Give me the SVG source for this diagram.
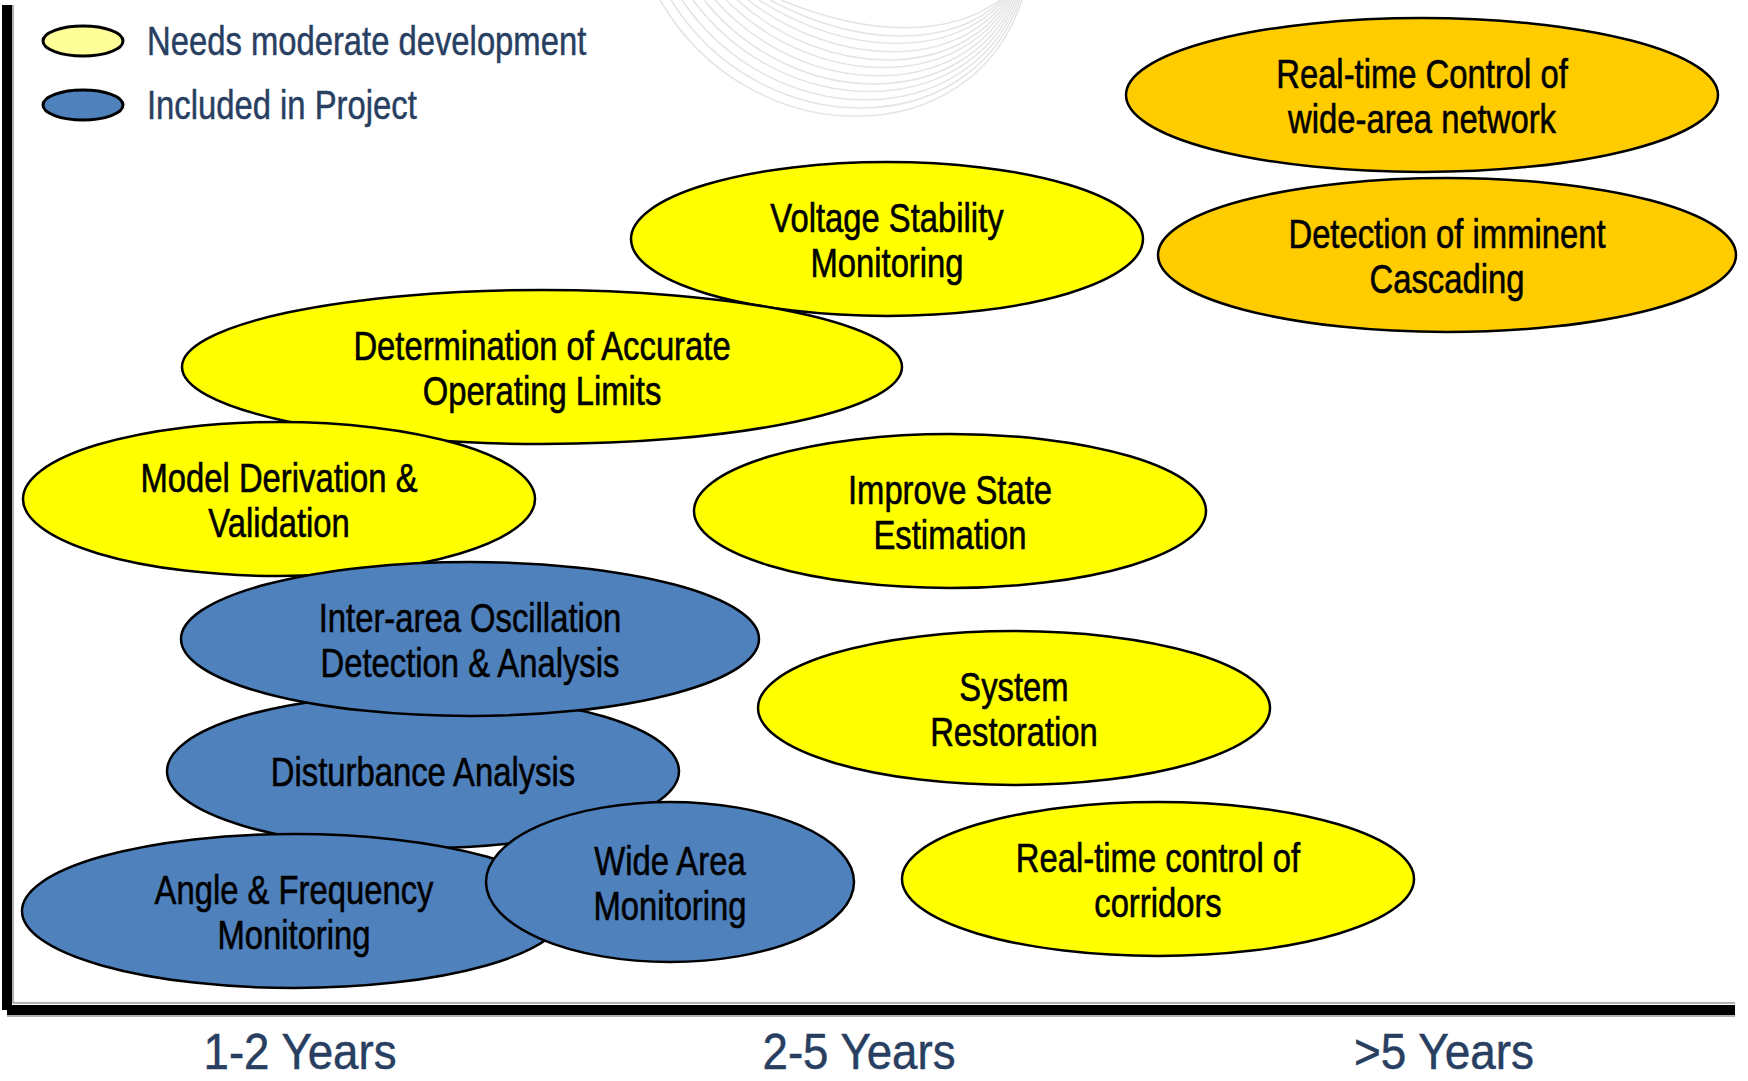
<svg xmlns="http://www.w3.org/2000/svg" width="1748" height="1081" viewBox="0 0 1748 1081">
<style>
.node ellipse{stroke:#000;stroke-width:2.5}
.y{fill:#ffff00}
.o{fill:#ffcc00}
.b{fill:#4f81bd}
.t{font-family:"Liberation Sans",Arial,sans-serif;font-size:40px;fill:#000;stroke:#000;stroke-width:0.6;text-anchor:middle}
.lg{font-family:"Liberation Sans",Arial,sans-serif;font-size:40px;fill:#283f62;stroke:#283f62;stroke-width:0.5}
.ax{font-family:"Liberation Sans",Arial,sans-serif;font-size:50px;fill:#283f62;stroke:#283f62;stroke-width:0.5;text-anchor:middle}
.deco path{fill:none;stroke:#e4e4e4;stroke-width:1.5}
</style>
<rect width="1748" height="1081" fill="#fff"/>
<g class="deco">
<path d="M660,0 C750,155 972,155 1022,0"/>
<path d="M671,0 C761,144 970,144 1020,0"/>
<path d="M682,0 C772,133 968,133 1018,0"/>
<path d="M693,0 C783,122 966,122 1016,0"/>
<path d="M704,0 C794,112 964,112 1014,0"/>
<path d="M715,0 C805,101 962,101 1012,0"/>
<path d="M726,0 C816,90 960,90 1010,0"/>
<path d="M737,0 C827,80 958,80 1008,0"/>
<path d="M748,0 C838,69 956,69 1006,0"/>
<path d="M759,0 C849,58 954,58 1004,0"/>
<path d="M770,0 C860,48 952,48 1002,0"/>
<path d="M781,0 C871,37 950,37 1000,0"/>
</g>
<g id="axes">
<line x1="13" y1="5" x2="13" y2="1003" stroke="#999" stroke-width="1.5"/>
<line x1="13" y1="1003" x2="1735" y2="1003" stroke="#999" stroke-width="1.5"/>
<line x1="7" y1="1016" x2="1735" y2="1016" stroke="#999" stroke-width="1.5"/>
<rect x="2" y="5" width="10" height="1005" fill="#000"/>
<rect x="7" y="1005" width="1728" height="10" fill="#000"/>
</g>
<g id="legend">
<g id="legend-moderate">
<ellipse cx="83" cy="41" rx="40" ry="15" fill="#ffff99" stroke="#000" stroke-width="3"/>
<text class="lg" transform="matrix(0.82 0 0 1 147 0)" x="0" y="55">Needs moderate development</text>
</g>
<g id="legend-included">
<ellipse cx="83" cy="105" rx="40" ry="15" fill="#4f81bd" stroke="#000" stroke-width="3"/>
<text class="lg" transform="matrix(0.82 0 0 1 147 0)" x="0" y="119">Included in Project</text>
</g>
</g>
<g id="connectors"></g>
<g id="n-rt-wide" class="node">
<ellipse class="o" cx="1422" cy="95" rx="296" ry="77"/>
<text class="t" transform="matrix(0.82 0 0 1 1422 0)"><tspan x="0" y="88">Real-time Control of</tspan><tspan x="0" y="133">wide-area network</tspan></text>
</g>
<g id="n-cascading" class="node">
<ellipse class="o" cx="1447" cy="255" rx="289" ry="77"/>
<text class="t" transform="matrix(0.82 0 0 1 1447 0)"><tspan x="0" y="248">Detection of imminent</tspan><tspan x="0" y="293">Cascading</tspan></text>
</g>
<g id="n-voltage" class="node">
<ellipse class="y" cx="887" cy="239" rx="256" ry="77"/>
<text class="t" transform="matrix(0.82 0 0 1 887 0)"><tspan x="0" y="232">Voltage Stability</tspan><tspan x="0" y="277">Monitoring</tspan></text>
</g>
<g id="n-limits" class="node">
<ellipse class="y" cx="542" cy="367" rx="360" ry="77"/>
<text class="t" transform="matrix(0.82 0 0 1 542 0)"><tspan x="0" y="360">Determination of Accurate</tspan><tspan x="0" y="405">Operating Limits</tspan></text>
</g>
<g id="n-model" class="node">
<ellipse class="y" cx="279" cy="499" rx="256" ry="77"/>
<text class="t" transform="matrix(0.82 0 0 1 279 0)"><tspan x="0" y="492">Model Derivation &amp;</tspan><tspan x="0" y="537">Validation</tspan></text>
</g>
<g id="n-state" class="node">
<ellipse class="y" cx="950" cy="511" rx="256" ry="77"/>
<text class="t" transform="matrix(0.82 0 0 1 950 0)"><tspan x="0" y="504">Improve State</tspan><tspan x="0" y="549">Estimation</tspan></text>
</g>
<g id="n-disturbance" class="node">
<ellipse class="b" cx="423" cy="771" rx="256" ry="77"/>
<text class="t" transform="matrix(0.82 0 0 1 423 0)"><tspan x="0" y="786">Disturbance Analysis</tspan></text>
</g>
<g id="n-interarea" class="node">
<ellipse class="b" cx="470" cy="639" rx="289" ry="77"/>
<text class="t" transform="matrix(0.82 0 0 1 470 0)"><tspan x="0" y="632">Inter-area Oscillation</tspan><tspan x="0" y="677">Detection &amp; Analysis</tspan></text>
</g>
<g id="n-angle" class="node">
<ellipse class="b" cx="294" cy="911" rx="272" ry="77"/>
<text class="t" transform="matrix(0.82 0 0 1 294 0)"><tspan x="0" y="904">Angle &amp; Frequency</tspan><tspan x="0" y="949">Monitoring</tspan></text>
</g>
<g id="n-widearea" class="node">
<ellipse class="b" cx="670" cy="882" rx="184" ry="80"/>
<text class="t" transform="matrix(0.82 0 0 1 670 0)"><tspan x="0" y="875">Wide Area</tspan><tspan x="0" y="920">Monitoring</tspan></text>
</g>
<g id="n-restoration" class="node">
<ellipse class="y" cx="1014" cy="708" rx="256" ry="77"/>
<text class="t" transform="matrix(0.82 0 0 1 1014 0)"><tspan x="0" y="701">System</tspan><tspan x="0" y="746">Restoration</tspan></text>
</g>
<g id="n-corridors" class="node">
<ellipse class="y" cx="1158" cy="879" rx="256" ry="77"/>
<text class="t" transform="matrix(0.82 0 0 1 1158 0)"><tspan x="0" y="872">Real-time control of</tspan><tspan x="0" y="917">corridors</tspan></text>
</g>
<g id="axis-labels">
<text class="ax" x="300" y="1069" textLength="193" lengthAdjust="spacingAndGlyphs">1-2 Years</text>
<text class="ax" x="859" y="1069" textLength="193" lengthAdjust="spacingAndGlyphs">2-5 Years</text>
<text class="ax" x="1444" y="1069" textLength="180" lengthAdjust="spacingAndGlyphs">&gt;5 Years</text>
</g>
</svg>
